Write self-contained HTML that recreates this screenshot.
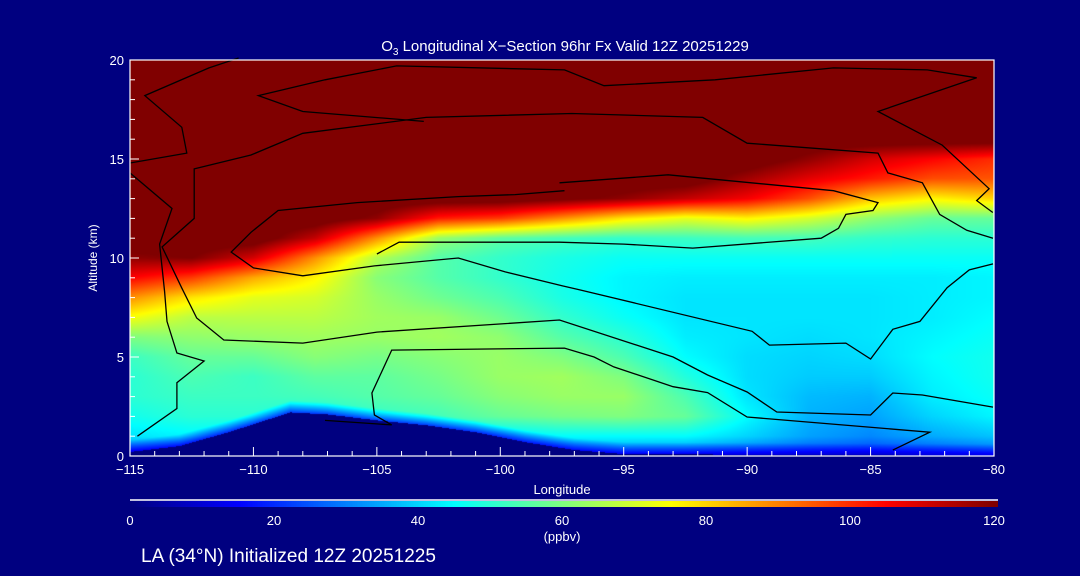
<!DOCTYPE html>
<html><head><meta charset="utf-8">
<style>
body{margin:0;background:#000080;width:1080px;height:576px;overflow:hidden;font-family:"Liberation Sans",sans-serif;}
#wrap{position:relative;width:1080px;height:576px;}
canvas{position:absolute;}
svg{position:absolute;left:0;top:0;}
text{fill:#fff;font-family:"Liberation Sans",sans-serif;}
</style></head><body>
<div id="wrap">
<canvas id="field" width="864" height="396" style="left:130px;top:60px"></canvas>
<canvas id="cbar" width="868" height="6" style="left:130px;top:501px"></canvas>
<svg id="svg" width="1080" height="576"></svg>
</div>
<script>
// ---- data ----
const lons = [-115,-112.5,-110,-107.5,-105,-102.5,-100,-97.5,-95,-92.5,-90,-87.5,-85,-82.5,-80];
const alts = [0,1,2,3,4,5,6,7,8,9,10,11,12,13,14,15,16,17,18,19,20];
const col0  = [25,42,47,50,50,52,60,74,88,105,118,125,125,125,125,125,125,125,125,125,125];
const col1  = [30,44,50,52,54,57,62,67,78,98,120,125,125,125,125,125,125,125,125,125,125];
const col2  = [25,42,50,52,52,57,63,67,72,85,110,125,125,125,125,125,125,125,125,125,125];
const col3  = [25,42,47,53,56,61,64,67,70,76,88,112,125,125,125,125,125,125,125,125,125];
const col4  = [25,42,51,55,56,59,63,64,63,61,66,88,118,125,125,125,125,125,125,125,125];
const col5  = [28,42,53,57,59,61,64,63,58,55,55,63,102,125,125,125,125,125,125,125,125];
const col6  = [30,42,57,61,63,63,62,58,54,51,51,56,98,125,125,125,125,125,125,125,125];
const col7  = [30,45,59,63,64,60,55,51,48,47,48,53,88,122,125,125,125,125,125,125,125];
const col8  = [30,45,60,63,60,54,50,46,44,44,46,51,78,118,125,125,125,125,125,125,125];
const col9  = [28,45,57,54,49,45,43,42,42,43,46,52,72,112,125,125,125,125,125,125,125];
const col10 = [25,40,45,42,41,41,42,42,42,43,46,53,76,106,116,125,125,125,125,125,125];
const col11 = [22,34,36,37,39,40,41,42,42,43,46,53,70,96,108,118,125,125,125,125,125];
const col12 = [20,31,34,36,39,41,42,42,42,43,46,51,62,82,102,110,125,125,125,125,125];
const col13 = [22,35,40,43,44,45,44,43,43,43,46,50,57,76,96,105,125,125,125,125,125];
const col14 = [25,38,44,46,47,47,46,45,44,44,46,50,57,80,95,100,125,125,125,125,125];
const terrainLon = [-115,-113,-111,-109,-108.5,-107,-105,-103,-101,-99,-97,-95,-80];
const terrainAlt = [0.2,0.5,1.2,2.0,2.2,2.1,1.8,1.55,1.2,0.7,0.3,0.1,0];
const xTicks = [-115,-110,-105,-100,-95,-90,-85,-80];
const yTicks = [0,5,10,15,20];
const cTicks = [0,20,40,60,80,100,120];
// contour lines [lon, alt]
const contourA = [[-110.6,20.1],[-111.8,19.6],[-114.4,18.2],[-112.9,16.6],[-112.7,15.3],[-115,14.8]];
const contourB = [[-115,14.3],[-113.3,12.5],[-113.8,10.7],[-113.6,8.3],[-113.5,6.8],[-113.1,5.2],[-112,4.8],[-113.1,3.7],[-113.1,2.4],[-114.7,1.0]];
const contourC = [[-103.1,16.9],[-108,17.4],[-109.8,18.2],[-107.1,19.0],[-104.2,19.7],[-97.4,19.5],[-95.8,18.7],[-91.3,19.0],[-86.5,19.6],[-82.7,19.5],[-80.7,19.1],[-84.7,17.4],[-82.1,15.7],[-80.2,13.5],[-80.7,12.9],[-80.05,12.3]];
const contourD = [[-80.04,2.47],[-82.9,3.08],[-84.1,3.18],[-85.0,2.07],[-88.8,2.22],[-90.0,3.23],[-91.6,4.09],[-93.0,5.0],[-97.6,6.87],[-105.0,6.26],[-108.0,5.7],[-111.2,5.86],[-112.3,6.97],[-112.9,8.48],[-113.7,10.56],[-112.4,12.0],[-112.4,14.5],[-110.1,15.2],[-108.0,16.3],[-103.0,17.1],[-97.1,17.3],[-91.8,17.1],[-90.0,15.8],[-84.7,15.3],[-84.3,14.3],[-82.9,13.8],[-82.2,12.2],[-81.1,11.4],[-80.04,11.0]];
const contourE = [[-97.4,13.4],[-99.4,13.2],[-101.7,13.1],[-105.8,12.8],[-109.0,12.4],[-110.1,11.3],[-110.9,10.3],[-110.0,9.5],[-108.0,9.1],[-105.1,9.6],[-101.7,10.0],[-99.8,9.3],[-97.5,8.6],[-96.8,8.4],[-89.8,6.3],[-89.1,5.6],[-86.0,5.7],[-85.0,4.9],[-84.1,6.4],[-83.0,6.8],[-81.9,8.5],[-81.0,9.4],[-80.04,9.7]];
const contourF = [[-107.1,1.8],[-104.4,1.57],[-105.1,2.07],[-105.2,3.18],[-104.4,5.35],[-97.4,5.45],[-96.2,5.0],[-95.4,4.5],[-93.0,3.5],[-91.6,3.2],[-90.0,1.97],[-82.6,1.2],[-84.1,0.3]];
const contourH = [[-97.6,13.8],[-93.2,14.2],[-86.5,13.4],[-84.7,12.8],[-84.9,12.4],[-86.0,12.2],[-86.3,11.5],[-87.0,11.0],[-92.2,10.5],[-95.0,10.7],[-97.6,10.8],[-104.1,10.8],[-105.0,10.2]];

// ---- axes ----
const X0=130,X1=994,Y0=456,Y1=60;
const xs = lon => X0 + (lon+115)/35*(X1-X0);
const ys = a => Y0 - a/20*(Y0-Y1);
const cs = v => 130 + v/120*864;

function jet(v){
  let t=Math.max(0,Math.min(1,v/120));
  const f=(c)=>Math.max(0,Math.min(1,1.5-Math.abs(4*t-c)));
  return [Math.round(255*f(3)),Math.round(255*f(2)),Math.round(255*f(1))];
}
const cols=[col0,col1,col2,col3,col4,col5,col6,col7,col8,col9,col10,col11,col12,col13,col14];
function interp(arrX,arrY,x){
  if(x<=arrX[0])return arrY[0];
  for(let i=0;i<arrX.length-1;i++){ if(x<=arrX[i+1]){const t=(x-arrX[i])/(arrX[i+1]-arrX[i]);return arrY[i]+t*(arrY[i+1]-arrY[i]);} }
  return arrY[arrY.length-1];
}
function field(lon,alt){
  let fi=(lon-lons[0])/(lons[1]-lons[0]); fi=Math.max(0,Math.min(lons.length-1.0001,fi));
  let fj=(alt-alts[0])/(alts[1]-alts[0]); fj=Math.max(0,Math.min(alts.length-1.0001,fj));
  const i=Math.floor(fi),j=Math.floor(fj),tx=fi-i,ty=fj-j;
  const a=cols[i][j],b=cols[i+1][j],c=cols[i][j+1],d=cols[i+1][j+1];
  return (a*(1-tx)+b*tx)*(1-ty)+(c*(1-tx)+d*tx)*ty;
}
const cv=document.getElementById('field'),ctx=cv.getContext('2d');
const img=ctx.createImageData(864,396);
for(let py=0;py<396;py++){
  const alt=(Y0-(py+60+0.5))/(Y0-Y1)*20;
  for(let px=0;px<864;px++){
    const lon=-115+(px+0.5)/864*35;
    const ter=interp(terrainLon,terrainAlt,lon);
    let v;
    if(alt<ter) v=0; else { v=field(lon,alt); const d=alt-ter; if(d<0.6) v=v*(0.45+0.55*d/0.6); }
    const c=jet(v),k=(py*864+px)*4;
    img.data[k]=c[0];img.data[k+1]=c[1];img.data[k+2]=c[2];img.data[k+3]=255;
  }
}
ctx.putImageData(img,0,0);
const cb=document.getElementById('cbar'),cc=cb.getContext('2d');
for(let px=0;px<868;px++){const c=jet(px/864*120);cc.fillStyle=`rgb(${c[0]},${c[1]},${c[2]})`;cc.fillRect(px,0,1,6);}

const svg=document.getElementById('svg'),NS='http://www.w3.org/2000/svg';
function mk(tag,attrs,parent){const e=document.createElementNS(NS,tag);for(const k in attrs)e.setAttribute(k,attrs[k]);(parent||svg).appendChild(e);return e;}
function txt(s,x,y,size,anchor){const t=mk('text',{x:x,y:y,'font-size':size,'text-anchor':anchor||'middle'});t.textContent=s;return t;}

const contours=[contourA,contourB,contourC,contourD,contourE,contourF,contourH];
const cg=mk('g',{});


contours.forEach((c,i)=>{
  const p=mk('polyline',{points:c.map(q=>xs(q[0]).toFixed(1)+','+ys(q[1]).toFixed(1)).join(' '),fill:'none',stroke:'#000','stroke-width':1.3},cg);
  
  
});

const fr=mk('rect',{x:X0,y:Y1,width:X1-X0,height:Y0-Y1,fill:'none',stroke:'#fff','stroke-width':1.2});


for(let l=-115;l<=-80;l++){
  const major=(l%5===0);
  mk('line',{x1:xs(l),x2:xs(l),y1:Y0,y2:Y0-(major?9:5),stroke:'#fff','stroke-width':1});
}
xTicks.forEach(l=>{const t=txt('\u2212'+Math.abs(l),xs(l),Y0+18,13);
  
  });
for(let a=0;a<=20;a++){
  const major=(a%5===0);
  mk('line',{x1:X0,x2:X0+(major?9:5),y1:ys(a),y2:ys(a),stroke:'#fff','stroke-width':1});
}
yTicks.forEach(a=>{const t=txt(String(a),X0-6,ys(a)+5,13,'end');
  
  });
const xt=txt('Longitude',562,494,13);


const yt=txt('Altitude (km)',0,0,12);
yt.setAttribute('transform','translate(97,258) rotate(-90)');


const tt=mk('text',{x:565,y:51,'font-size':15,'text-anchor':'middle'});
tt.innerHTML='O<tspan font-size="10" dy="4">3</tspan><tspan dy="-4"> Longitudinal X\u2212Section 96hr  Fx Valid 12Z 20251229</tspan>';


mk('line',{x1:130,x2:998,y1:500,y2:500,stroke:'#fff','stroke-width':1.5});
cTicks.forEach(v=>{const t=txt(String(v),cs(v),525,13);
  
  });
const un=txt('(ppbv)',562,541,13);


const st=txt('LA (34\u00B0N) Initialized 12Z 20251225',141,562,19,'start');


</script>
</body></html>
